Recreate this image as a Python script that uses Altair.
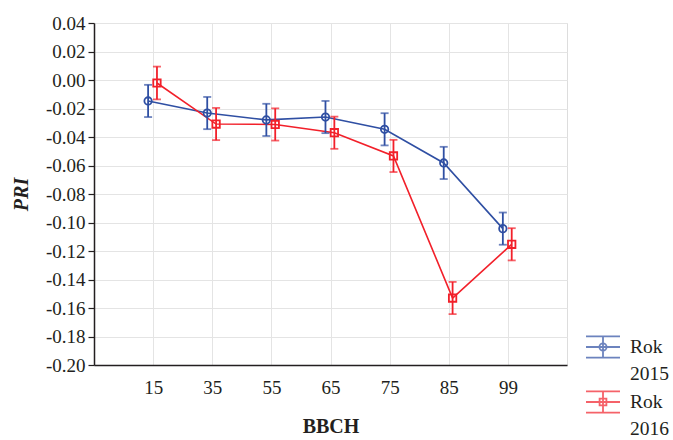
import altair as alt
import pandas as pd

# ---- data ----
bbch_labels = ['15', '35', '55', '65', '75', '85', '99']
years = ['2015', '2016']
pri_2015 = [-0.0147, -0.0232, -0.0280, -0.0260, -0.0346, -0.0582, -0.1043]
pri_2016 = [-0.0021, -0.0309, -0.0312, -0.0370, -0.0533, -0.1530, -0.1153]
err_2015 = [0.0113, 0.0113, 0.0113, 0.0113, 0.0113, 0.0113, 0.0113]
err_2016 = [0.0115, 0.0113, 0.0113, 0.0113, 0.0113, 0.0113, 0.0113]
y_ticks = [-0.20, -0.18, -0.16, -0.14, -0.12, -0.10, -0.08, -0.06, -0.04, -0.02, 0.00, 0.02, 0.04]
x_ticks = [1, 2, 3, 4, 5, 6, 7]
colors = ['#2f4fa3', '#f2202a']

rows = []
for yr, vals, errs in ((years[0], pri_2015, err_2015), (years[1], pri_2016, err_2016)):
    for b, v, e in zip(bbch_labels, vals, errs):
        rows.append({'bbch': b, 'year': yr, 'pri': v, 'lo': v - e, 'hi': v + e})
df = pd.DataFrame(rows)

label_list = "[" + ",".join(f"'{b}'" for b in bbch_labels) + "]"
FONT = 'Liberation Serif'

base = alt.Chart(df).transform_calculate(
    pos=f"indexof({label_list}, datum.bbch) + 1 + (datum.year == '2015' ? -0.085 : 0.065)"
)

x_enc = alt.X(
    'pos:Q',
    scale=alt.Scale(domain=[0, 8], nice=False, zero=False),
    axis=alt.Axis(
        values=x_ticks, labelExpr=f"{label_list}[datum.value - 1]", title='BBCH',
        grid=True, gridColor='#e4e4e4', gridWidth=1, ticks=False,
        domainColor='#231f20', domainWidth=1.5, labelPadding=13,
        labelFont=FONT, labelFontSize=19, labelColor='#231f20',
        titleFont=FONT, titleFontSize=20, titleFontWeight='bold', titleColor='#231f20',
        titlePadding=19,
    ),
)


def y_enc(field):
    return alt.Y(
        field,
        scale=alt.Scale(domain=[-0.20, 0.04], nice=False, zero=False),
        axis=alt.Axis(
            values=y_ticks,
            labelExpr="datum.value < -0.0001 ? '-' + format(-datum.value, '.2f') : format(abs(datum.value), '.2f')",
            title='PRI', grid=True, gridColor='#e4e4e4', gridWidth=1,
            tickSize=6, tickColor='#231f20', tickWidth=1.2,
            domainColor='#231f20', domainWidth=1.5, labelPadding=3,
            labelFont=FONT, labelFontSize=19, labelColor='#231f20',
            titleFont=FONT, titleFontSize=20, titleFontWeight='bold', titleFontStyle='italic',
            titleColor='#231f20', titlePadding=14,
        ),
    )


color_enc = alt.Color('year:N', scale=alt.Scale(domain=years, range=colors), legend=None)

lines = base.mark_line(strokeWidth=1.6).encode(x=x_enc, y=y_enc('pri:Q'), color=color_enc, detail='year:N')
rules = base.mark_rule(strokeWidth=1.8).encode(x=x_enc, y=y_enc('lo:Q'), y2='hi:Q', color=color_enc)
caps_lo = base.mark_tick(orient='horizontal', size=8, thickness=1.8).encode(x=x_enc, y=y_enc('lo:Q'), color=color_enc)
caps_hi = base.mark_tick(orient='horizontal', size=8, thickness=1.8).encode(x=x_enc, y=y_enc('hi:Q'), color=color_enc)
points = base.mark_point(filled=False, strokeWidth=1.8, size=55, opacity=1).encode(
    x=x_enc, y=y_enc('pri:Q'), color=color_enc,
    shape=alt.Shape('year:N', scale=alt.Scale(domain=years, range=['circle', 'square']), legend=None),
)

glyph_circle = ("M-1,-0.62H1M-1,0H1M-1,0.62H1M0,-0.62V0.62"
                "M0.21,0A0.21,0.21,0,1,1,-0.21,0A0.21,0.21,0,1,1,0.21,0Z")
glyph_square = ("M-1,-0.62H1M-1,0H1M-1,0.62H1M0,-0.62V0.62"
                "M-0.2,-0.2H0.2V0.2H-0.2Z")

leg = alt.Legend(
    title=None, orient='none', legendX=491, legendY=306,
    symbolSize=1156, symbolStrokeWidth=1.8,
    labelFont=FONT, labelFontSize=19.5, labelColor='#231f20',
    labelExpr="['Rok', datum.label]", labelBaseline='middle', labelOffset=9,
    rowPadding=0,
)
legend_layer = base.transform_filter('false').mark_point(filled=False).encode(
    x=x_enc, y=y_enc('pri:Q'),
    color=alt.Color('year:N', scale=alt.Scale(domain=years, range=colors), legend=leg),
    shape=alt.Shape('year:N', scale=alt.Scale(domain=years, range=[glyph_circle, glyph_square]), legend=leg),
)

chart = alt.layer(lines, rules, caps_lo, caps_hi, points, legend_layer).resolve_scale(
    color='independent', shape='independent'
).resolve_legend(color='independent', shape='independent').properties(
    width=473, height=342,
    autosize=alt.AutoSizeParams(type='none'),
    padding={'left': 94, 'top': 23, 'right': 106, 'bottom': 75},
).configure_view(stroke='#231f20', strokeWidth=1.5).configure(
    style={'guide-label': {'lineHeight': 27}}
)

chart.save('out.html', embed_options={'renderer': 'svg', 'actions': False})
